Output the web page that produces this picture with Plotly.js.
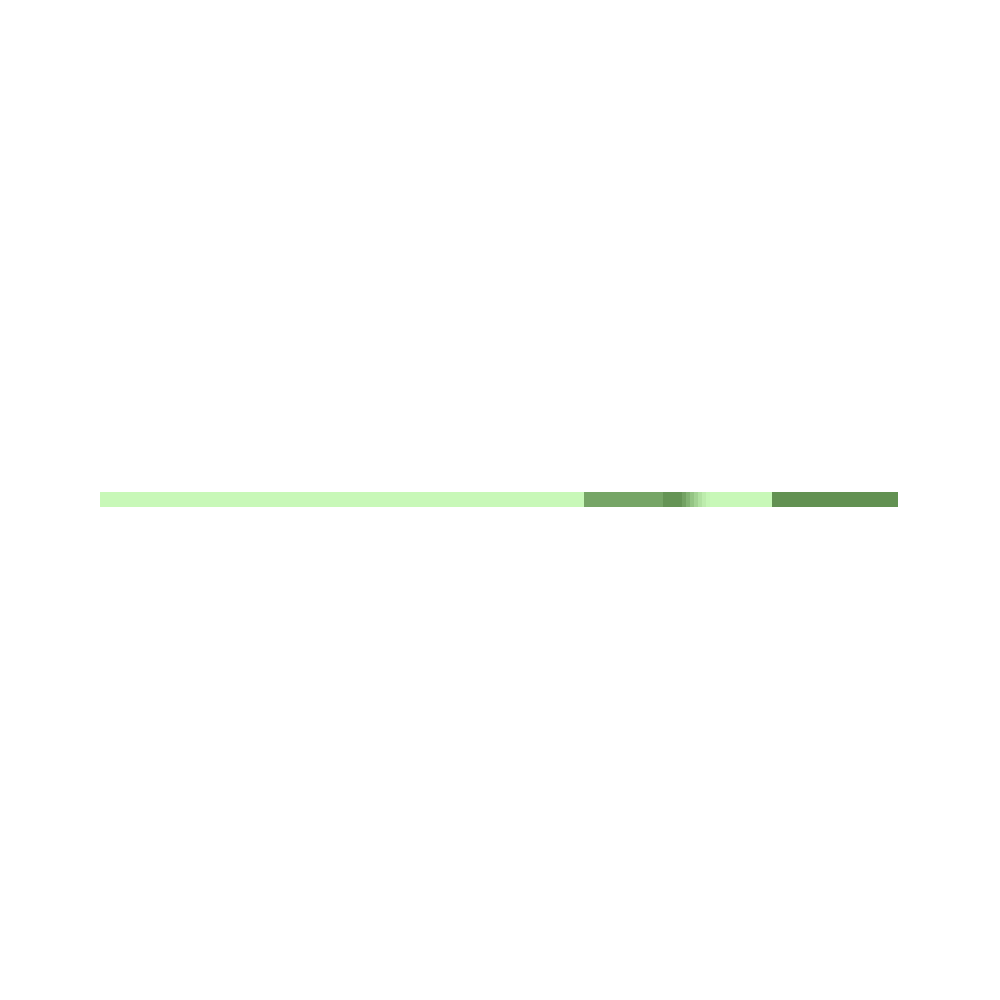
<!DOCTYPE html>
<html>
<head>
<meta charset="utf-8">
<script src="https://cdn.plot.ly/plotly-3.0.1.min.js"></script>
<style>
  html, body { margin: 0; padding: 0; background: #ffffff; }
  #chart { width: 1000px; height: 1000px; }
</style>
</head>
<body>
<div id="chart"></div>
<script>
// cell edges along the strip and the level of each cell
const cellEdges = [0, 484, 563, 582, 586, 590, 594, 598, 602, 606, 610, 672, 798];
const cellLevels = [0.0, 0.79, 0.95, 0.82, 0.66, 0.5, 0.36, 0.22, 0.11, 0.03, 0.0, 0.98];
const rowNames = ["row"];

const strip = {
  type: "heatmap",
  x: cellEdges,
  y: rowNames,
  z: [cellLevels],
  zmin: 0,
  zmax: 1,
  colorscale: [
    [0, "#c8f8b8"],
    [1, "#608f50"]
  ],
  showscale: false,
  hoverinfo: "skip"
};

const layout = {
  width: 1000,
  height: 1000,
  margin: { l: 100, r: 102, t: 0, b: 0 },
  paper_bgcolor: "#ffffff",
  plot_bgcolor: "#ffffff",
  showlegend: false,
  xaxis: {
    range: [0, 798],
    visible: false,
    fixedrange: true
  },
  yaxis: {
    domain: [0.493, 0.508],
    visible: false,
    fixedrange: true
  }
};

Plotly.newPlot("chart", [strip], layout, { displayModeBar: false, staticPlot: true });
</script>
</body>
</html>
